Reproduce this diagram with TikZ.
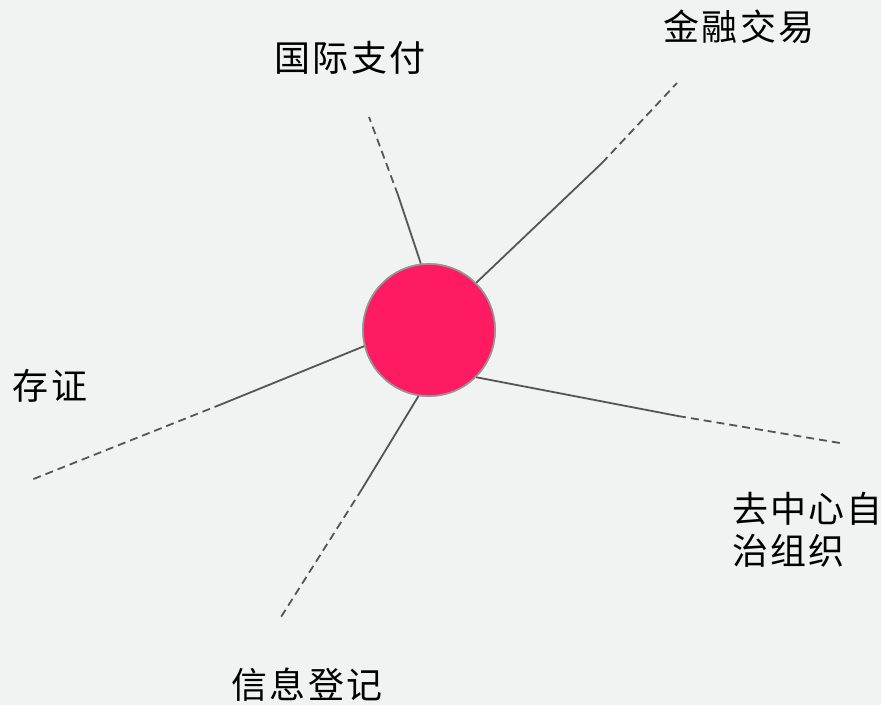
\documentclass[tikz,border=0pt]{standalone}
\usepackage{fontspec}
\setmainfont{Noto Sans CJK SC}[LetterSpace=6]
\definecolor{bgc}{RGB}{241,243,242}
\definecolor{hub}{RGB}{255,27,98}
\definecolor{rim}{RGB}{150,150,150}
\definecolor{lnc}{RGB}{85,85,85}
\begin{document}
\begin{tikzpicture}[x=1pt,y=-1pt,
  hubnode/.style={circle,fill=hub,draw=rim,line width=1.6pt,minimum size=132pt,inner sep=0pt},
  lbl/.style={inner sep=0pt,font=\fontsize{36}{42}\selectfont,text=black},
  solidln/.style={draw=lnc,line width=1.8pt},
  dashln/.style={draw=lnc,line width=1.8pt,dash pattern=on 8pt off 5pt}]
\fill[bgc] (0,0) rectangle (881,705);
\useasboundingbox (0,0) rectangle (881,705);
\node[hubnode] (c) at (429,330) {};
% knees and ends
\coordinate (k1) at (398,195); \coordinate (e1) at (369,117);
\coordinate (k2) at (602,163); \coordinate (e2) at (677,83);
\coordinate (k3) at (222,404); \coordinate (e3) at (31,480);
\coordinate (k4) at (678,416); \coordinate (e4) at (840,443);
\coordinate (k5) at (362,489); \coordinate (e5) at (281,617);
\draw[solidln] (c.97) -- (k1);
\draw[dashln] (k1) -- (e1);
\draw[solidln] (c.45) -- (k2);
\draw[dashln] (k2) -- (e2);
\draw[solidln] (c.194) -- (k3);
\draw[dashln] (k3) -- (e3);
\draw[solidln] (c.-45) -- (k4);
\draw[dashln] (k4) -- (e4);
\draw[solidln] (c.261) -- (k5);
\draw[dashln] (k5) -- (e5);
\node[hubnode] at (c) {};
% labels
\node[lbl] (t1) at (350,58) {国际支付};
\node[lbl] (t2) at (739,27) {金融交易};
\node[lbl] (t3) at (50,386) {存证};
\node[lbl,align=left,anchor=west] (t4) at (732,530) {去中心自\\治组织};
\node[lbl] (t5) at (307,685) {信息登记};
\end{tikzpicture}
\end{document}
